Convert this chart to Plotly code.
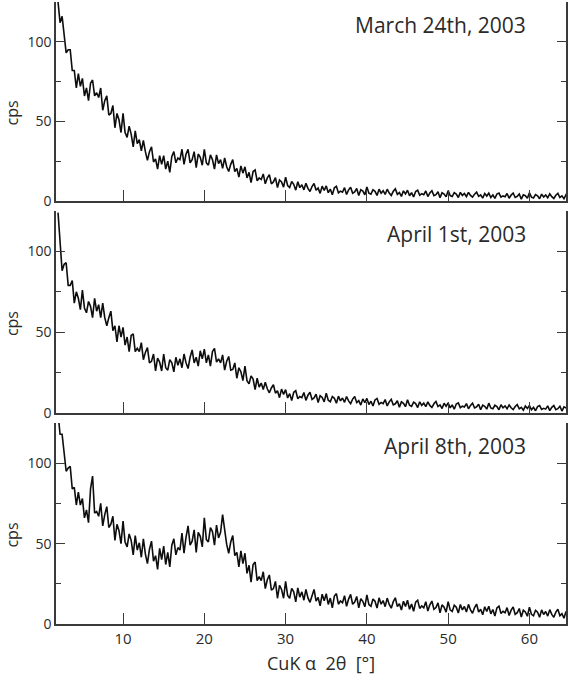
import plotly.graph_objects as go

# 2-theta scan grid (degrees)
two_theta = [
    2.0, 2.25, 2.5, 2.75, 3.0, 3.25, 3.5, 3.75, 4.0, 4.25, 4.5, 4.75, 5.0, 5.25, 5.5, 5.75, 6.0, 6.25, 6.5, 6.75,
    7.0, 7.25, 7.5, 7.75, 8.0, 8.25, 8.5, 8.75, 9.0, 9.25, 9.5, 9.75, 10.0, 10.25, 10.5, 10.75, 11.0, 11.25, 11.5, 11.75,
    12.0, 12.25, 12.5, 12.75, 13.0, 13.25, 13.5, 13.75, 14.0, 14.25, 14.5, 14.75, 15.0, 15.25, 15.5, 15.75, 16.0, 16.25, 16.5, 16.75,
    17.0, 17.25, 17.5, 17.75, 18.0, 18.25, 18.5, 18.75, 19.0, 19.25, 19.5, 19.75, 20.0, 20.25, 20.5, 20.75, 21.0, 21.25, 21.5, 21.75,
    22.0, 22.25, 22.5, 22.75, 23.0, 23.25, 23.5, 23.75, 24.0, 24.25, 24.5, 24.75, 25.0, 25.25, 25.5, 25.75, 26.0, 26.25, 26.5, 26.75,
    27.0, 27.25, 27.5, 27.75, 28.0, 28.25, 28.5, 28.75, 29.0, 29.25, 29.5, 29.75, 30.0, 30.25, 30.5, 30.75, 31.0, 31.25, 31.5, 31.75,
    32.0, 32.25, 32.5, 32.75, 33.0, 33.25, 33.5, 33.75, 34.0, 34.25, 34.5, 34.75, 35.0, 35.25, 35.5, 35.75, 36.0, 36.25, 36.5, 36.75,
    37.0, 37.25, 37.5, 37.75, 38.0, 38.25, 38.5, 38.75, 39.0, 39.25, 39.5, 39.75, 40.0, 40.25, 40.5, 40.75, 41.0, 41.25, 41.5, 41.75,
    42.0, 42.25, 42.5, 42.75, 43.0, 43.25, 43.5, 43.75, 44.0, 44.25, 44.5, 44.75, 45.0, 45.25, 45.5, 45.75, 46.0, 46.25, 46.5, 46.75,
    47.0, 47.25, 47.5, 47.75, 48.0, 48.25, 48.5, 48.75, 49.0, 49.25, 49.5, 49.75, 50.0, 50.25, 50.5, 50.75, 51.0, 51.25, 51.5, 51.75,
    52.0, 52.25, 52.5, 52.75, 53.0, 53.25, 53.5, 53.75, 54.0, 54.25, 54.5, 54.75, 55.0, 55.25, 55.5, 55.75, 56.0, 56.25, 56.5, 56.75,
    57.0, 57.25, 57.5, 57.75, 58.0, 58.25, 58.5, 58.75, 59.0, 59.25, 59.5, 59.75, 60.0, 60.25, 60.5, 60.75, 61.0, 61.25, 61.5, 61.75,
    62.0, 62.25, 62.5, 62.75, 63.0, 63.25, 63.5, 63.75, 64.0, 64.25, 64.5, 64.75, 65.0,
]

# cps, March 24th 2003
cps_mar24 = [
    125, 112, 116, 103, 93, 95, 95, 82, 82, 71, 80, 72, 77, 66, 71, 63, 74, 76, 66, 68,
    65, 71, 57, 63, 66, 54, 55, 60, 46, 55, 51, 43, 55, 43, 40, 47, 42, 34, 44, 36,
    38.5, 31.5, 38, 31, 25.5, 31, 34, 24.5, 26.5, 20, 28.5, 23, 28.5, 20, 25, 18, 28, 31, 24, 27,
    26, 32.5, 23, 29.5, 32.5, 24, 26, 31, 21, 29.5, 27.5, 22.5, 32.5, 24, 22.5, 29, 26, 20, 29, 23.5,
    26, 20.5, 27, 21.5, 18.5, 23, 26, 18.5, 20.5, 15, 22, 17.5, 21.5, 14.5, 18, 11.5, 18.5, 19.5, 12.7, 14.5,
    13.5, 17, 10.8, 14.5, 16.5, 10.8, 12, 14.7, 8.5, 13.2, 12, 8.7, 15, 9.7, 8.5, 12.2, 10.5, 6.8, 12.1, 8.4,
    10.2, 7, 11.1, 7.9, 6, 9.1, 11, 6.7, 8.1, 4.8, 9.3, 6.6, 9.5, 5.2, 7.5, 3.9, 8.3, 9.2, 5.1, 6.2,
    5.5, 8.4, 4.1, 7, 8.6, 4.9, 5.7, 7.9, 3.4, 7.1, 6.2, 3.9, 8.8, 4.9, 4.3, 7.1, 6.1, 3.5, 7.4, 4.9,
    6.5, 4.1, 7.4, 5, 3.5, 6.1, 7.6, 4.2, 5.3, 2.9, 6.4, 4.4, 6.8, 3.3, 5.3, 2.5, 6, 6.8, 3.6, 4.6,
    4, 6.3, 2.8, 5.1, 6.5, 3.4, 4, 5.8, 2.1, 5.2, 4.4, 2.6, 6.5, 3.4, 2.8, 5.2, 4.4, 2.2, 5.4, 3.5,
    4.7, 2.8, 5.4, 3.5, 2.4, 4.3, 5.6, 2.9, 3.8, 1.8, 4.7, 3.1, 4.9, 2.2, 3.8, 1.6, 4.4, 5, 2.4, 3.2,
    2.7, 4.7, 1.7, 3.7, 5, 2.2, 2.9, 4.4, 1.2, 3.9, 3.3, 1.7, 5.1, 2.4, 1.9, 4, 3.3, 1.4, 4.3, 2.5,
    3.8, 2, 4.5, 2.7, 1.6, 3.6, 4.8, 2.2, 3.2, 1.4, 4, 2.5, 4.4,
]

# cps, April 1st 2003
cps_apr01 = [
    124, 105, 88, 92, 93, 79, 79, 82, 68, 75, 71, 64, 76, 65, 62, 69, 66, 59, 71, 63,
    67, 59, 68, 59, 54, 59, 63, 51, 54, 44, 54, 47, 53, 42, 47, 38, 48, 49, 38, 40,
    38, 43.5, 33, 37.5, 40.5, 31, 32, 36.5, 26, 34, 31.5, 26, 36.5, 28, 26.5, 33, 31, 25.5, 34.5, 29.5,
    33.5, 28, 36.5, 31, 27.5, 34.5, 39, 31, 34.5, 29, 38.5, 33.5, 39.5, 31, 36, 29, 38, 40, 31.5, 33.5,
    31, 36, 26.5, 32, 35, 26.5, 27, 31, 21.5, 28, 25.5, 20, 29, 20, 18, 23, 21, 14.5, 21.5, 16,
    18.5, 14.5, 19, 15, 12.5, 15.5, 17.5, 12.3, 13.8, 9.5, 14.8, 11.5, 14.5, 9.3, 12, 7.7, 12.8, 13.8, 8.8, 10.2,
    9.5, 12.7, 7.8, 11, 12.8, 8.4, 9.3, 11.7, 6.5, 10.7, 9.6, 6.9, 12.3, 7.9, 7, 10.2, 9.1, 6, 10.4, 7.5,
    9.3, 6.6, 10.2, 7.5, 5.8, 8.6, 10.2, 6.4, 7.6, 4.9, 8.7, 6.4, 9, 5.2, 7.3, 4.3, 8.1, 9, 5.4, 6.5,
    5.8, 8.3, 4.4, 6.9, 8.4, 5, 5.7, 7.6, 3.5, 6.9, 6, 3.9, 8.2, 4.8, 4.1, 6.7, 5.8, 3.4, 6.9, 4.7,
    6.1, 3.9, 6.9, 4.7, 3.4, 5.7, 7.1, 4, 5, 2.8, 6, 4.2, 6.2, 3.2, 5, 2.3, 5.6, 6.3, 3.3, 4.2,
    3.7, 5.8, 2.6, 4.7, 6.1, 3.1, 3.8, 5.4, 2, 4.9, 4.1, 2.4, 6.1, 3.1, 2.6, 4.8, 4, 2, 5.1, 3.2,
    4.4, 2.6, 5, 3.2, 2.1, 4, 5.2, 2.6, 3.5, 1.7, 4.3, 2.8, 4.6, 2, 3.5, 1.4, 4, 4.6, 2.2, 2.9,
    2.4, 4.4, 1.5, 3.5, 4.6, 2.1, 2.7, 4.2, 1.2, 3.8, 3.2, 1.7, 4.9,
]

# cps, April 8th 2003
cps_apr08 = [
    131, 118, 118, 105, 95, 97, 98, 84, 85, 74, 82, 74, 78, 66, 71, 63, 84, 92, 69, 70,
    67, 75, 61, 68, 73, 60, 62, 67, 52, 62, 58, 50, 64, 51, 48, 56, 52, 43, 55, 46,
    50.5, 41.5, 53, 43.5, 37.5, 46.5, 51.5, 39, 42.5, 34, 47, 40, 48.5, 37, 44.5, 35.5, 49, 53, 43, 47.5,
    46, 56.5, 44, 54, 61, 49, 51.5, 58.5, 44.5, 57, 54.5, 48, 66, 52.5, 51, 60, 57.5, 49, 61.5, 53.5,
    57, 68, 58.5, 49.5, 44, 51, 55, 42.5, 44.5, 35.5, 45.5, 37.5, 44, 31.5, 36.5, 26, 37, 38.5, 27, 29.5,
    27, 32.5, 22, 27.5, 30.5, 21, 22, 26.5, 16, 24, 21.5, 16, 26.5, 17.8, 16, 22.2, 20, 13.8, 22.5, 16.7,
    20, 14.8, 21.5, 16.2, 13.5, 18.3, 21.5, 14.2, 16.5, 11.3, 18.5, 14.4, 18.8, 12.2, 16.1, 10, 17.4, 18.9, 12.3, 14.3,
    13.2, 17.6, 11, 15.5, 18.4, 12.3, 13.7, 17.1, 10, 15.7, 14.1, 10.7, 18.1, 12.1, 11, 15.5, 14.2, 9.9, 16.3, 12.3,
    14.6, 10.8, 16.1, 12.2, 9.8, 13.9, 16.3, 10.8, 12.6, 8.7, 14.2, 10.9, 14.8, 9.2, 12.4, 7.9, 13.6, 14.8, 9.7, 11.3,
    10.1, 13.9, 8.1, 11.9, 14.3, 9.1, 10.2, 13.1, 6.9, 11.9, 10.5, 7.4, 13.9, 8.8, 7.8, 11.7, 10.4, 6.8, 12.1, 8.8,
    10.9, 7.4, 12.2, 8.7, 6.7, 10.2, 12.4, 7.5, 9.2, 5.7, 10.7, 7.8, 11, 6.3, 9, 5, 10, 11.1, 6.5, 7.9,
    7, 10.2, 5.3, 8.6, 10.6, 6, 7, 9.6, 4.3, 8.6, 7.5, 4.8, 10.4, 6, 5.1, 8.5, 7.3, 4.2, 8.8, 5.9,
    7.8, 4.9, 8.9, 6, 4.2, 7.4, 9.2, 5.1, 6.4, 3.6, 7.8, 5.4, 8.2,
]

panel_labels = ["March 24th, 2003", "April 1st, 2003", "April 8th, 2003"]
series = [cps_mar24, cps_apr01, cps_apr08]
y_ticks = [0, 50, 100]
y_minor_ticks = [25, 75]
x_ticks = [10, 20, 30, 40, 50, 60]
x_title = "CuK α  2θ  [°]"
y_title = "cps"

FONT = "Open Sans"
AX = "#3a3a3a"
TXT = "#2a2a2a"

W, H = 570, 678
ML, MR, MT, MB = 56, 2, 2, 54
plot_h = H - MT - MB
# pixel rows of each panel (top, bottom) in page coordinates
panel_px = [(2, 201), (211, 413), (423, 624)]
domains = [[(H - MB - b) / plot_h, (H - MB - t) / plot_h] for t, b in panel_px]

fig = go.Figure()
layout = dict(
    width=W, height=H,
    margin=dict(l=ML, r=MR, t=MT, b=MB),
    paper_bgcolor="white", plot_bgcolor="white",
    showlegend=False,
    font=dict(family=FONT, color=TXT),
    annotations=[],
)

for i, (vals, lab) in enumerate(zip(series, panel_labels)):
    n = "" if i == 0 else str(i + 1)
    fig.add_trace(go.Scatter(
        x=two_theta, y=vals, mode="lines",
        line=dict(color="#0d0d0d", width=1.6),
        xaxis="x" + n, yaxis="y" + n, hoverinfo="skip",
    ))
    layout["xaxis" + n] = dict(
        domain=[0, 1], anchor="y" + n, range=[1.75, 64.5],
        showline=True, linecolor=AX, linewidth=1.5, mirror=False,
        ticks="inside", ticklen=11, tickwidth=1.3, tickcolor=AX,
        tickvals=x_ticks, showticklabels=(i == 2),
        tickfont=dict(size=15, family=FONT, color=TXT),
        showgrid=False, zeroline=False,
    )
    layout["yaxis" + n] = dict(
        domain=domains[i], anchor="x" + n, range=[0, 125],
        showline=True, linecolor=AX, linewidth=1.5, mirror="ticks",
        ticks="inside", ticklen=9, tickwidth=1.3, tickcolor=AX,
        tickvals=y_ticks, tickfont=dict(size=14, family=FONT, color=TXT),
        minor=dict(tickvals=y_minor_ticks, ticks="inside", ticklen=5,
                   tickwidth=1.3, tickcolor=AX),
        showgrid=False, zeroline=False,
    )
    layout["annotations"].append(dict(
        text=lab, xref="x" + n + " domain", yref="y" + n + " domain",
        x=(530 - ML) / (W - ML - MR), y=1, yshift=-23,
        xanchor="right", yanchor="middle", showarrow=False,
        font=dict(size=21, family=FONT, color=TXT),
    ))
    layout["annotations"].append(dict(
        text=y_title, xref="paper", yref="y" + n + " domain",
        x=0, xshift=-44, y=0.44, xanchor="center", yanchor="middle",
        textangle=-90, showarrow=False,
        font=dict(size=16, family=FONT, color=TXT),
    ))

layout["annotations"].append(dict(
    text=x_title, xref="paper", yref="paper",
    x=(322 - ML) / (W - ML - MR), y=0, yshift=-39,
    xanchor="center", yanchor="middle", showarrow=False,
    font=dict(size=18, family=FONT, color=TXT),
))

fig.update_layout(**layout)
fig.write_html("out.html")
